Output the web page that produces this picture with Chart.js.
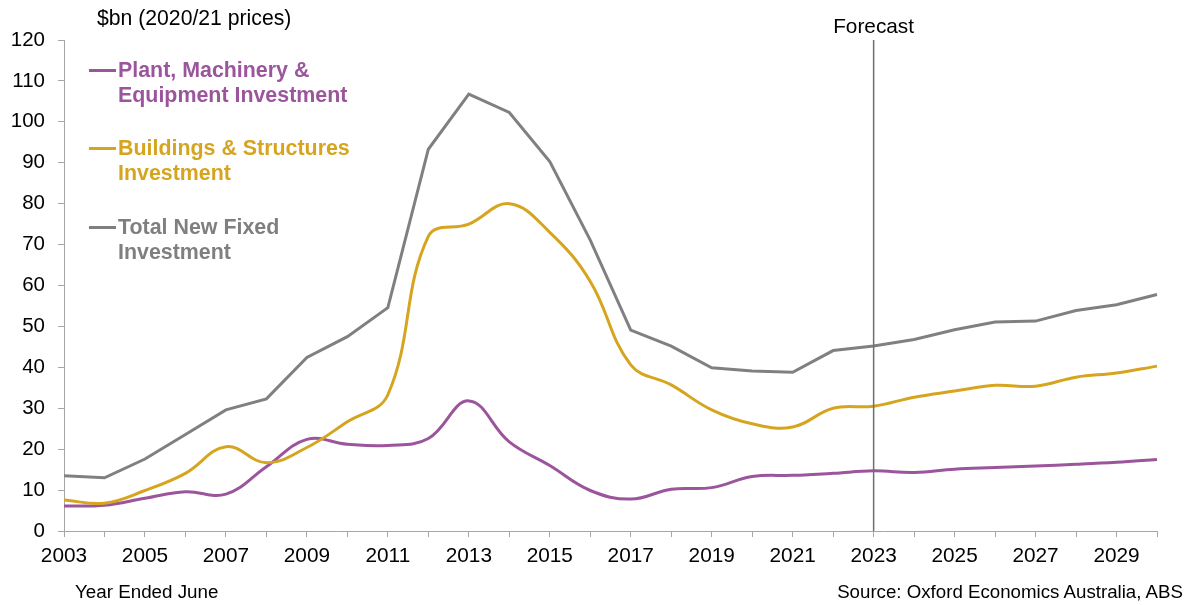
<!DOCTYPE html>
<html>
<head>
<meta charset="utf-8">
<script src="https://cdn.jsdelivr.net/npm/chart.js@4/dist/chart.umd.min.js"></script>
<style>
  html, body { margin: 0; padding: 0; background: #fff; }
  #wrap { position: relative; width: 1192px; height: 605px; font-family: "Liberation Sans", Arial, sans-serif; }
  canvas { position: absolute; left: 0; top: 0; }
  .txt { position: absolute; white-space: nowrap; color: #000; }
  .leg { position: absolute; left: 89px; font-weight: bold; font-size: 21.4px; line-height: 24.5px; white-space: nowrap; }
  .leg .sw { display: inline-block; width: 27px; height: 0; border-top: 3px solid; vertical-align: middle; margin-right: 2px; position: relative; top: -1px; }
  .leg .l2 { padding-left: 29px; }
</style>
</head>
<body>
<div id="wrap">
  <canvas id="c" width="1192" height="605"></canvas>
  <div class="txt" style="left:97px; top:6px; font-size:21.2px; line-height:24px;">$bn (2020/21 prices)</div>
  <div class="txt" id="fc" style="left:831px; top:14px; font-size:20.8px; line-height:24px;">Forecast</div>
  <div class="txt" style="left:75px; top:581px; font-size:18.8px; line-height:22px;">Year Ended June</div>
  <div class="txt" style="right:9px; top:581px; font-size:18.7px; line-height:22px;">Source: Oxford Economics Australia, ABS</div>
  <div class="leg" style="top:58px; color:#9b559c;"><span class="sw" style="border-color:#9b559c;"></span>Plant, Machinery &amp;<br><span class="l2">Equipment Investment</span></div>
  <div class="leg" style="top:136px; color:#d6a51f;"><span class="sw" style="border-color:#d6a51f;"></span>Buildings &amp; Structures<br><span class="l2">Investment</span></div>
  <div class="leg" style="top:215px; color:#7f7f7f;"><span class="sw" style="border-color:#7f7f7f;"></span>Total New Fixed<br><span class="l2">Investment</span></div>
</div>
<script>
const years = ["2003","2004","2005","2006","2007","2008","2009","2010","2011","2012","2013","2014","2015","2016","2017","2018","2019","2020","2021","2022","2023","2024","2025","2026","2027","2028","2029","2030"];
const plantMachinery = [6.1,6.3,8.0,9.6,9.0,15.7,22.4,21.2,20.9,22.6,31.8,21.8,16.0,9.9,7.8,10.2,10.6,13.3,13.6,14.1,14.7,14.3,15.1,15.5,15.9,16.3,16.8,17.5];
const buildings = [7.6,6.8,9.9,14.1,20.6,16.7,20.4,26.7,33.3,72.0,75.0,80.0,73.0,61.0,40.6,35.7,29.6,26.2,25.4,30.0,30.5,32.7,34.2,35.6,35.4,37.6,38.6,40.3];
const totalInvestment = [13.5,13.0,17.6,23.6,29.6,32.3,42.4,47.5,54.6,93.3,106.8,102.3,90.3,71.1,49.1,45.2,39.9,39.1,38.8,44.1,45.2,46.8,49.2,51.1,51.3,53.9,55.3,57.8];
const forecastYear = "2023";
const yMin = 0, yMax = 120, yStep = 10;

const FONT = '"Liberation Sans", Arial, sans-serif';
const AXIS = '#a6a6a6';

const forecastLine = {
  id: 'forecastLine',
  afterDatasetsDraw(chart) {
    const x = chart.scales.x.getPixelForValue(years.indexOf(forecastYear));
    const a = chart.chartArea;
    const ctx = chart.ctx;
    ctx.save();
    ctx.strokeStyle = '#6f6f6f';
    ctx.lineWidth = 1.5;
    ctx.beginPath();
    ctx.moveTo(x, a.top);
    ctx.lineTo(x, a.bottom);
    ctx.stroke();
    ctx.restore();
    const fc = document.getElementById('fc');
    fc.style.left = (x - fc.offsetWidth / 2) + 'px';
  }
};

new Chart(document.getElementById('c'), {
  type: 'line',
  data: {
    labels: years,
    datasets: [
      { label: 'Total New Fixed Investment', data: totalInvestment, borderColor: '#808080', borderWidth: 3, tension: 0, pointRadius: 0 },
      { label: 'Buildings & Structures Investment', data: buildings, borderColor: '#d6a51f', borderWidth: 3, tension: 0.4, pointRadius: 0 },
      { label: 'Plant, Machinery & Equipment Investment', data: plantMachinery, borderColor: '#9b559c', borderWidth: 3, tension: 0.4, pointRadius: 0 }
    ]
  },
  options: {
    responsive: false,
    animation: false,
    layout: { padding: { left: 0, top: 40, right: 35, bottom: 0 } },
    plugins: { legend: { display: false }, tooltip: { enabled: false } },
    scales: {
      x: {
        type: 'category',
        offset: false,
        border: { display: true, color: AXIS, width: 1 },
        grid: { display: true, drawOnChartArea: false, drawTicks: true, tickLength: 6, color: AXIS },
        ticks: {
          autoSkip: false, maxRotation: 0, minRotation: 0, padding: 7,
          color: '#000', font: { family: FONT, size: 20.8 },
          callback: function(v, i) { return (parseInt(years[i]) - 2003) % 2 === 0 ? years[i] : ''; }
        },
        afterFit(s) { s.height = 74; }
      },
      y: {
        min: yMin, max: yMax,
        border: { display: true, color: AXIS, width: 1 },
        grid: { display: true, drawOnChartArea: false, drawTicks: true, tickLength: 6, color: AXIS },
        ticks: { stepSize: yStep, padding: 13, color: '#000', font: { family: FONT, size: 20.5 } },
        afterFit(s) { s.width = 64; }
      }
    }
  },
  plugins: [forecastLine]
});
</script>
</body>
</html>
